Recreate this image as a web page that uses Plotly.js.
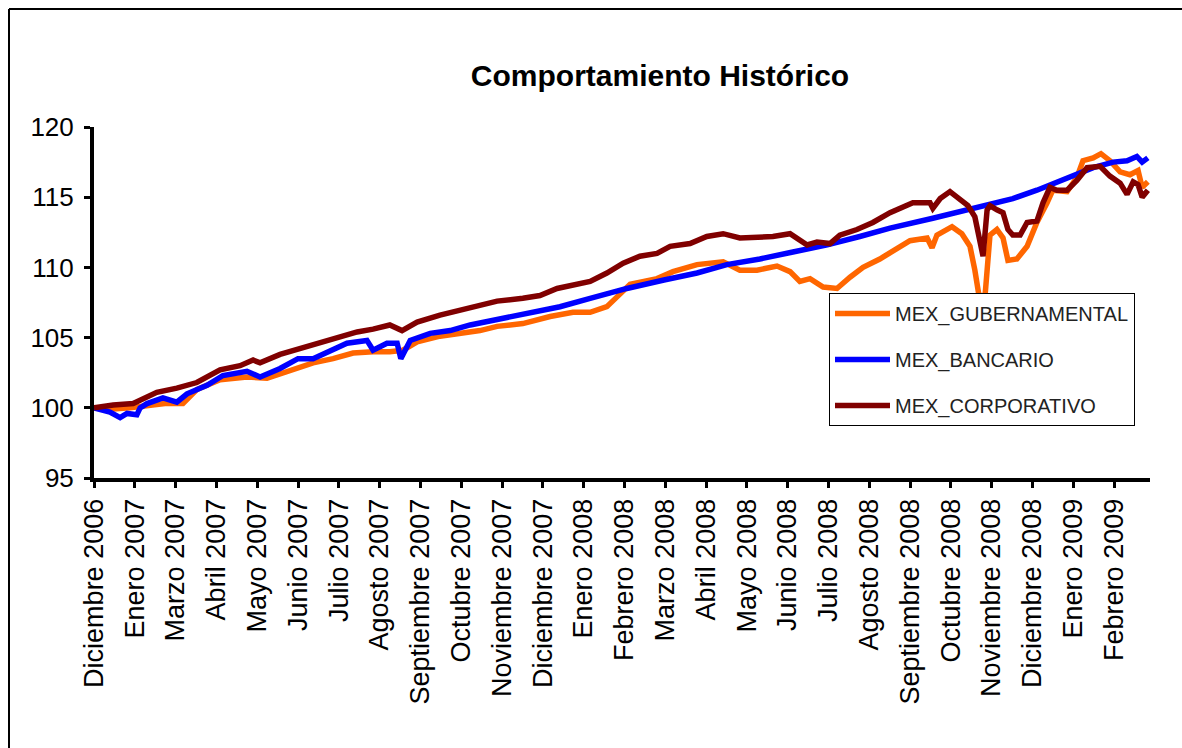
<!DOCTYPE html>
<html>
<head>
<meta charset="utf-8">
<script src="https://cdn.plot.ly/plotly-3.0.1.min.js"></script>
<style>
  html, body { margin: 0; padding: 0; background: #fff; }
  #chart { width: 1182px; height: 748px; }
</style>
</head>
<body>
<div id="chart"></div>
<script>
// Tick labels (one per category tick; period index 0..25)
const tickLabels = [
  "Diciembre 2006", "Enero 2007", "Marzo 2007", "Abril 2007", "Mayo 2007",
  "Junio 2007", "Julio 2007", "Agosto 2007", "Septiembre 2007", "Octubre 2007",
  "Noviembre 2007", "Diciembre 2007", "Enero 2008", "Febrero 2008", "Marzo 2008",
  "Abril 2008", "Mayo 2008", "Junio 2008", "Julio 2008", "Agosto 2008",
  "Septiembre 2008", "Octubre 2008", "Noviembre 2008", "Diciembre 2008",
  "Enero 2009", "Febrero 2009"
];
const tickPositions = tickLabels.map((_, i) => i);

// MEX_GUBERNAMENTAL (position in tick periods, index value)
const gubX = [0.00,0.39,0.88,1.30,1.74,2.18,2.52,3.09,3.75,4.24,4.73,5.37,5.86,6.35,6.84,7.25,7.57,7.92,8.48,9.04,9.46,9.88,10.51,11.18,11.74,12.16,12.57,12.82,13.14,13.80,14.19,14.78,15.42,15.83,16.25,16.74,17.06,17.30,17.55,17.87,18.21,18.53,18.85,19.26,19.63,20.00,20.42,20.54,20.66,21.03,21.27,21.47,21.59,21.69,21.84,21.96,22.13,22.28,22.40,22.62,22.87,23.11,23.36,23.50,23.85,24.09,24.24,24.49,24.68,24.90,25.15,25.39,25.59,25.69,25.83];
const gubY = [100.0,99.9,100.0,100.1,100.3,100.3,101.3,102.0,102.2,102.1,102.6,103.2,103.5,103.9,104.0,104.0,104.1,104.7,105.1,105.3,105.5,105.8,106.0,106.5,106.8,106.8,107.2,107.9,108.8,109.2,109.7,110.2,110.4,109.8,109.8,110.1,109.7,109.0,109.2,108.6,108.5,109.3,110.0,110.6,111.2,111.9,112.1,111.4,112.3,112.9,112.4,111.5,109.8,108.0,108.0,112.3,112.7,112.1,110.5,110.6,111.5,113.2,114.6,115.5,115.4,116.4,117.6,117.8,118.1,117.6,116.8,116.6,116.9,115.7,116.1];

// MEX_BANCARIO
const banX = [0.00,0.39,0.64,0.81,1.05,1.13,1.30,1.69,2.03,2.28,2.77,3.16,3.75,4.07,4.56,5.00,5.37,5.86,6.20,6.69,6.84,7.18,7.43,7.52,7.75,8.24,8.73,9.22,9.88,10.61,11.42,12.16,13.06,13.97,14.78,15.51,16.32,17.13,17.97,18.77,19.51,20.56,21.23,21.89,22.52,23.11,23.85,24.49,24.98,25.32,25.56,25.69,25.83];
const banY = [100.0,99.7,99.3,99.6,99.5,100.0,100.3,100.7,100.4,101.0,101.6,102.3,102.6,102.2,102.8,103.5,103.5,104.1,104.6,104.8,104.1,104.6,104.6,103.5,104.8,105.3,105.5,105.9,106.3,106.7,107.2,107.8,108.5,109.1,109.6,110.2,110.6,111.1,111.6,112.2,112.8,113.5,114.0,114.4,114.9,115.5,116.4,117.1,117.5,117.6,117.9,117.5,117.8];

// MEX_CORPORATIVO
const corX = [0.00,0.47,0.96,1.54,2.03,2.52,3.09,3.58,3.90,4.07,4.56,5.05,5.61,6.03,6.45,6.84,7.25,7.55,7.92,8.48,9.22,9.88,10.51,10.93,11.35,12.16,12.57,12.97,13.38,13.80,14.12,14.61,15.02,15.42,15.83,16.25,16.64,17.06,17.30,17.48,17.72,18.04,18.28,18.70,19.09,19.51,20.07,20.49,20.56,20.74,20.98,21.23,21.42,21.59,21.72,21.79,21.89,21.96,22.13,22.28,22.40,22.52,22.70,22.87,23.11,23.26,23.43,23.60,23.85,24.09,24.34,24.66,24.90,25.15,25.32,25.47,25.59,25.69,25.83];
const corY = [100.0,100.2,100.3,101.1,101.4,101.8,102.7,103.0,103.4,103.2,103.8,104.2,104.7,105.0,105.4,105.6,105.9,105.5,106.1,106.6,107.1,107.6,107.8,108.0,108.5,109.0,109.6,110.3,110.8,111.0,111.5,111.7,112.2,112.4,112.1,112.2,112.2,112.4,112.0,111.6,111.8,111.7,112.3,112.7,113.2,113.9,114.6,114.6,114.2,114.9,115.4,114.8,114.4,113.6,112.0,110.8,114.1,114.4,114.1,113.9,112.7,112.3,112.3,113.2,113.3,114.6,115.7,115.5,115.5,116.2,117.1,117.2,116.5,116.0,115.2,116.1,115.9,115.0,115.5];

const seriesNames = ["MEX_GUBERNAMENTAL", "MEX_BANCARIO", "MEX_CORPORATIVO"];
const seriesColors = ["#FF6600", "#0000FF", "#800000"];

const xs = [gubX, banX, corX];
const ys = [gubY, banY, corY];

const traces = seriesNames.map((name, i) => ({
  x: xs[i], y: ys[i], name: name, type: "scatter", mode: "lines",
  legendgroup: "g" + i,
  line: { color: seriesColors[i], width: 5.5 }
}));

const font = "Arial, 'Liberation Sans', sans-serif";

const pl = 94, pr = 1150, pt = 127, pb = 478;
const px2paper = (px) => (px - pl) / (pr - pl);
const py2paper = (py) => (pb - py) / (pb - pt);

const layout = {
  width: 1182, height: 748,
  margin: { l: pl, r: 1182 - pr, t: pt, b: 748 - pb },
  paper_bgcolor: "#fff", plot_bgcolor: "#fff",
  showlegend: true,
  title: {
    text: "<b>Comportamiento Histórico</b>",
    font: { family: font, size: 30, color: "#000" },
    xref: "container", yref: "container",
    x: 660 / 1182, y: 1 - 75 / 748, xanchor: "center", yanchor: "middle"
  },
  xaxis: {
    range: [0, (pr - pl) / 40.8],
    tickmode: "array", tickvals: tickPositions, ticktext: tickLabels,
    tickangle: -90,
    ticks: "outside", ticklen: 6, tickwidth: 3, tickcolor: "#000",
    showline: true, linecolor: "#000", linewidth: 4,
    showgrid: false, zeroline: false,
    tickfont: { family: font, size: 27, color: "#000" }
  },
  yaxis: {
    range: [95, 120], tickmode: "linear", tick0: 95, dtick: 5,
    ticks: "outside", ticklen: 6, tickwidth: 3, tickcolor: "#000",
    showline: true, linecolor: "#000", linewidth: 4,
    showgrid: false, zeroline: false,
    ticklabelstandoff: 5,
    tickfont: { family: font, size: 26, color: "#000" }
  },
  legend: {
    x: px2paper(829), y: py2paper(293), xanchor: "left", yanchor: "top",
    bgcolor: "#fff", bordercolor: "#000", borderwidth: 1,
    font: { family: font, size: 20, color: "#222" },
    tracegroupgap: 17,
    itemwidth: 55
  },
  shapes: [
    { type: "line", xref: "paper", yref: "paper",
      x0: px2paper(9), x1: px2paper(1182), y0: py2paper(9), y1: py2paper(9),
      line: { color: "#000", width: 2 } },
    { type: "line", xref: "paper", yref: "paper",
      x0: px2paper(9), x1: px2paper(9), y0: py2paper(9), y1: py2paper(748),
      line: { color: "#000", width: 2 } }
  ]
};

Plotly.newPlot("chart", traces, layout, { displayModeBar: false, staticPlot: true });
</script>
</body>
</html>
